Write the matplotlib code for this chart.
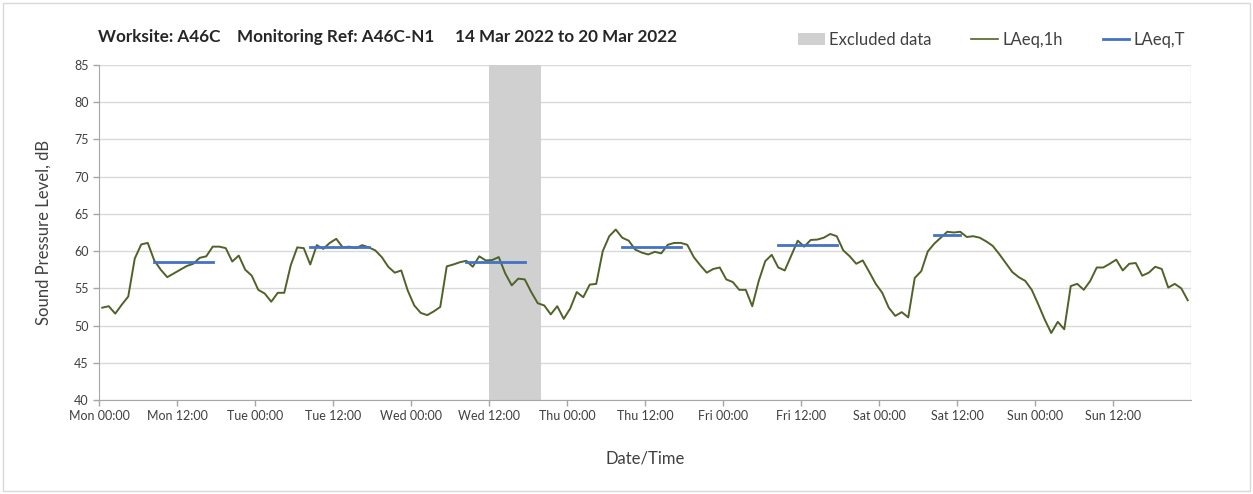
import matplotlib
matplotlib.use("Agg")
import matplotlib.pyplot as plt
import numpy as np
from matplotlib.lines import Line2D
from matplotlib.patches import Patch, Rectangle

# hourly LAeq,1h values, Mon 00:00 .. Sun 23:00
laeq_1h = [
    52.4, 52.6, 51.6, 52.8, 53.9, 59.0, 60.9, 61.1, 58.75, 57.5, 56.5, 57.0,
    57.5, 58.0, 58.3, 59.1, 59.3, 60.6, 60.6, 60.4, 58.6, 59.4, 57.5, 56.7,
    54.8, 54.3, 53.2, 54.4, 54.4, 58.1, 60.5, 60.4, 58.2, 60.8, 60.3, 61.1,
    61.65, 60.5, 60.6, 60.4, 60.8, 60.5, 60.1, 59.2, 57.9, 57.1, 57.4, 54.7,
    52.7, 51.7, 51.4, 51.9, 52.5, 57.95, 58.2, 58.5, 58.7, 57.9, 59.3, 58.75,
    58.8, 59.2, 57.0, 55.4, 56.3, 56.2, 54.5, 53.0, 52.7, 51.5, 52.6, 50.9,
    52.3, 54.5, 53.8, 55.5, 55.6, 60.0, 62.0, 62.9, 61.8, 61.4, 60.2, 59.8,
    59.55, 59.9, 59.7, 60.85, 61.1, 61.1, 60.85, 59.2, 58.1, 57.1, 57.6, 57.8,
    56.2, 55.85, 54.8, 54.8, 52.6, 56.0, 58.65, 59.5, 57.8, 57.4, 59.4, 61.4,
    60.6, 61.5, 61.55, 61.8, 62.3, 62.0, 60.1, 59.3, 58.3, 58.75, 57.2, 55.6,
    54.4, 52.4, 51.3, 51.8, 51.1, 56.4, 57.3, 59.95, 61.0, 61.8, 62.6, 62.5,
    62.6, 61.9, 62.0, 61.8, 61.3, 60.7, 59.6, 58.4, 57.2, 56.5, 56.0, 54.8,
    52.85, 50.8, 49.0, 50.5, 49.5, 55.3, 55.6, 54.8, 56.0, 57.8, 57.8, 58.3,
    58.85, 57.4, 58.3, 58.4, 56.7, 57.1, 57.9, 57.6, 55.1, 55.6, 55.0, 53.4,
]

# LAeq,T per day: first and last hour index of the period, level
laeq_t_start = [8, 32, 56, 80, 104, 128]
laeq_t_end = [17, 41, 65, 89, 113, 132]
laeq_t = [58.5, 60.5, 58.6, 60.5, 60.85, 62.2]

# excluded period, hours from Mon 00:00
excluded = (60, 68)

days = ["Mon", "Tue", "Wed", "Thu", "Fri", "Sat", "Sun"]
tick_labels = [f"{d} {t}" for d in days for t in ("00:00", "12:00")]

green = "#4f6228"
blue = "#4472c4"
grey_excl = "#d0d0d0"
grid_c = "#d9d9d9"
text_c = "#404040"

plt.rcParams["font.family"] = ["Lato", "DejaVu Sans"]

fig = plt.figure(figsize=(12.53, 4.94), dpi=100)
ax = fig.add_axes([99 / 1253, 1 - 400 / 494, (1191 - 99) / 1253, (400 - 65) / 494])

hours = np.arange(len(laeq_1h)) + 0.5
ax.axvspan(excluded[0], excluded[1], color=grey_excl, lw=0, zorder=1)
ax.plot(hours, laeq_1h, color=green, lw=1.4, zorder=3)
for s, e, v in zip(laeq_t_start, laeq_t_end, laeq_t):
    ax.plot([s + 0.5, e + 0.5], [v, v], color=blue, lw=2.0, zorder=4)

ax.set_xlim(0, 168)
ax.set_ylim(40, 85)
ax.set_xticks(np.arange(0, 168, 12))
ax.set_xticklabels(tick_labels)
ax.set_yticks(np.arange(40, 86, 5))
ax.set_xticks(np.arange(0, 169, 12), minor=True)
ax.grid(which="minor", axis="x", color=grid_c, lw=1.0)
ax.grid(which="major", axis="y", color=grid_c, lw=1.0)
ax.set_axisbelow(True)
ax.tick_params(axis="x", which="minor", length=0)
ax.tick_params(axis="both", which="major", colors="#a6a6a6", labelcolor=text_c,
               labelsize=9, length=4, width=1)
for side in ("top", "right"):
    ax.spines[side].set_visible(False)
for side in ("left", "bottom"):
    ax.spines[side].set_color("#a6a6a6")

ax.set_ylabel("Sound Pressure Level, dB", fontsize=12, color=text_c, labelpad=16)
ax.set_xlabel("Date/Time", fontsize=12, color=text_c, labelpad=20)

fig.text(98 / 1253, 1 - 37 / 494,
         "Worksite: A46C    Monitoring Ref: A46C-N1     14 Mar 2022 to 20 Mar 2022",
         fontsize=12.3, fontweight="bold", color="#262626", va="center", ha="left")

handles = [Patch(color=grey_excl, lw=0), Line2D([], [], color=green, lw=1.2),
           Line2D([], [], color=blue, lw=2.0)]
fig.legend(handles, ["Excluded data", "LAeq,1h", "LAeq,T"], ncol=3, frameon=False,
           loc="center right", bbox_to_anchor=(1200 / 1253, 1 - 40 / 494),
           fontsize=12, handlelength=1.6, handletextpad=0.25, columnspacing=2.4,
           labelcolor=text_c)

fig.patches.append(Rectangle((3 / 1253, 3 / 494), 1247 / 1253, 488 / 494,
                             transform=fig.transFigure, fill=False,
                             edgecolor=grid_c, lw=1))

fig.savefig("out.png", dpi=100, facecolor="white")
